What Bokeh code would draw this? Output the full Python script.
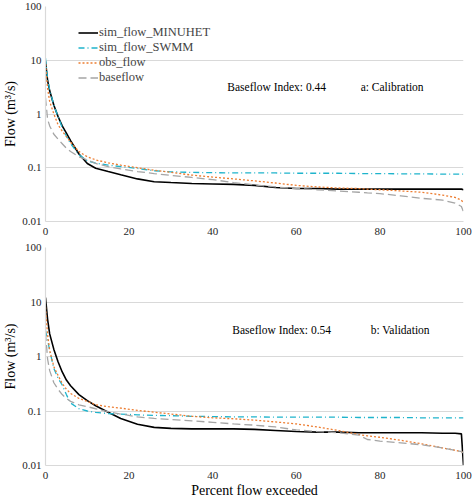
from bokeh.plotting import figure
from bokeh.models import Label, FixedTicker, Legend, LegendItem
from bokeh.layouts import column
from bokeh.embed import file_html
from bokeh.resources import INLINE

# ---------------- data ----------------
PERCENT = [0, 0.5, 1, 2, 3, 4, 5, 6, 8, 10, 12, 15, 18, 22, 26, 30, 35, 40, 45,
           50, 55, 60, 65, 70, 75, 77, 80, 85, 90, 95, 98, 99.5, 100]

# a: Calibration
A_MINUHET = [9.5, 4.2, 2.7, 1.45, 0.9, 0.6, 0.44, 0.32, 0.18, 0.12, 0.098, 0.085, 0.074,
             0.062, 0.055, 0.053, 0.051, 0.05, 0.049, 0.047, 0.043, 0.041, 0.041, 0.040,
             0.040, 0.040, 0.040, 0.040, 0.040, 0.040, 0.040, 0.040, 0.039]
A_SWMM = [11, 4.5, 2.8, 1.45, 0.9, 0.56, 0.39, 0.28, 0.175, 0.135, 0.122, 0.112, 0.105,
          0.097, 0.088, 0.084, 0.082, 0.081, 0.08, 0.08, 0.08, 0.079, 0.079, 0.079,
          0.078, 0.078, 0.078, 0.077, 0.077, 0.076, 0.076, 0.076, 0.076]
A_OBS = [8.5, 3.0, 1.7, 1.0, 0.63, 0.48, 0.38, 0.3, 0.2, 0.16, 0.14, 0.123, 0.112, 0.1,
         0.09, 0.082, 0.073, 0.067, 0.062, 0.057, 0.052, 0.047, 0.044, 0.042, 0.041,
         0.040, 0.039, 0.037, 0.035, 0.031, 0.028, 0.025, 0.022]
A_BASE = [2.0, 0.8, 0.6, 0.42, 0.34, 0.28, 0.23, 0.2, 0.16, 0.14, 0.12, 0.105, 0.095,
          0.085, 0.078, 0.072, 0.066, 0.06, 0.053, 0.048, 0.044, 0.041, 0.039, 0.037,
          0.035, 0.034, 0.033, 0.030, 0.027, 0.025, 0.022, 0.019, 0.015]

# b: Validation
B_MINUHET = [12, 4.8, 2.6, 1.35, 0.8, 0.52, 0.37, 0.29, 0.2, 0.155, 0.125, 0.095, 0.073,
             0.057, 0.05, 0.048, 0.047, 0.047, 0.047, 0.046, 0.044, 0.042, 0.041, 0.041,
             0.040, 0.040, 0.040, 0.040, 0.040, 0.039, 0.039, 0.038, 0.01]
B_SWMM = [3.0, 2.0, 1.3, 0.6, 0.4, 0.3, 0.2, 0.14, 0.11, 0.1, 0.094, 0.09, 0.088, 0.085,
          0.083, 0.082, 0.08, 0.079, 0.078, 0.078, 0.077, 0.077, 0.077, 0.077, 0.076,
          0.076, 0.076, 0.076, 0.075, 0.075, 0.075, 0.075, 0.075]
B_OBS = [8, 2.5, 1.3, 0.65, 0.45, 0.32, 0.25, 0.21, 0.17, 0.15, 0.13, 0.12, 0.113, 0.103,
         0.095, 0.088, 0.08, 0.075, 0.072, 0.068, 0.063, 0.058, 0.051, 0.044, 0.037,
         0.035, 0.033, 0.029, 0.025, 0.021, 0.019, 0.018, 0.017]
B_BASE = [2.7, 0.9, 0.55, 0.33, 0.25, 0.2, 0.17, 0.15, 0.13, 0.12, 0.11, 0.097, 0.088,
          0.078, 0.073, 0.07, 0.066, 0.062, 0.058, 0.055, 0.051, 0.045, 0.042, 0.040,
          0.036, 0.030, 0.028, 0.026, 0.024, 0.021, 0.019, 0.018, 0.017]

SERIES_NAMES = ["sim_flow_MINUHET", "sim_flow_SWMM", "obs_flow", "baseflow"]
Y_TICKS = [0.01, 0.1, 1, 10, 100]
Y_TICK_LABELS = ["0.01", "0.1", "1", "10", "100"]
X_TICKS = [0, 20, 40, 60, 80, 100]
BFI_TEXT = ["Baseflow  Index:  0.44", "Baseflow  Index:  0.54"]
PANEL_TEXT = ["a: Calibration", "b: Validation"]

FONT = "Liberation Serif"
GRID = "#D9D9D9"
STYLES = [
    dict(color="#000000", line_width=1.6, line_dash="solid"),
    dict(color="#1FB4CC", line_width=1.3, line_dash="6 3 1 3"),
    dict(color="#ED7D31", line_width=1.3, line_dash="2 2"),
    dict(color="#A5A5A5", line_width=1.3, line_dash="8 4"),
]


def make_panel(series, bfi, panel, height, border_top, xlabel, legend, text_x, text_y):
    p = figure(width=472, height=height, y_axis_type="log",
               x_range=(0, 100), y_range=(0.01, 100),
               output_backend="svg", toolbar_location=None,
               min_border_top=border_top, min_border_right=9, min_border_left=0,
               min_border_bottom=0)
    p.outline_line_color = None
    p.xgrid.grid_line_color = None
    p.ygrid.grid_line_color = GRID
    p.ygrid.grid_line_width = 1.2

    renderers = []
    for ys, st in zip(series, STYLES):
        r = p.line(PERCENT, ys, line_color=st["color"], line_width=st["line_width"],
                   line_dash=st["line_dash"])
        renderers.append(r)

    p.yaxis.ticker = FixedTicker(ticks=Y_TICKS)
    p.yaxis.major_label_overrides = {t: l for t, l in zip(Y_TICKS, Y_TICK_LABELS)}
    p.xaxis.ticker = FixedTicker(ticks=X_TICKS)
    for ax in (p.xaxis, p.yaxis):
        ax.axis_line_color = GRID
        ax.axis_line_width = 1.2
        ax.major_tick_line_color = None
        ax.minor_tick_line_color = None
        ax.major_tick_out = 0
        ax.major_tick_in = 0
        ax.minor_tick_out = 0
        ax.major_label_text_font = FONT
        ax.major_label_text_font_size = "11px"
        ax.major_label_text_color = "#262626"
        ax.axis_label_text_font = FONT
        ax.axis_label_text_font_style = "normal"
        ax.axis_label_text_color = "#000000"
    p.yaxis.major_label_standoff = 4
    p.xaxis.major_label_standoff = 6
    p.yaxis.axis_label = "Flow (m³/s)"
    p.yaxis.axis_label_text_font_size = "14px"
    p.yaxis.axis_label_standoff = 1
    if xlabel:
        p.xaxis.axis_label = xlabel
        p.xaxis.axis_label_text_font_size = "14px"
        p.xaxis.axis_label_standoff = 1

    p.add_layout(Label(x=text_x[0], y=text_y, text=bfi, text_font=FONT,
                       text_font_size="11.5px", text_baseline="middle",
                       text_color="#000000"))
    p.add_layout(Label(x=text_x[1], y=text_y, text=panel, text_font=FONT,
                       text_font_size="11.5px", text_baseline="middle",
                       text_color="#000000"))

    if legend:
        items = [LegendItem(label=n, renderers=[r]) for n, r in zip(SERIES_NAMES, renderers)]
        lg = Legend(items=items, location=(33, 136), padding=0, spacing=0, margin=0,
                    label_height=15, glyph_height=15, glyph_width=20,
                    label_standoff=1, label_text_font=FONT,
                    label_text_font_size="12.5px", background_fill_alpha=0,
                    border_line_color=None)
        p.add_layout(lg)
    return p


top = make_panel([A_MINUHET, A_SWMM, A_OBS, A_BASE], BFI_TEXT[0], PANEL_TEXT[0],
                 237, 6, None, True, (43.5, 75.4), 3.2)
bottom = make_panel([B_MINUHET, B_SWMM, B_OBS, B_BASE], BFI_TEXT[1], PANEL_TEXT[1],
                    263, 10, "Percent flow exceeded", False, (44.7, 77.8), 3.1)

layout = column(top, bottom, spacing=0)
open("out.html", "w").write(file_html(layout, INLINE))
